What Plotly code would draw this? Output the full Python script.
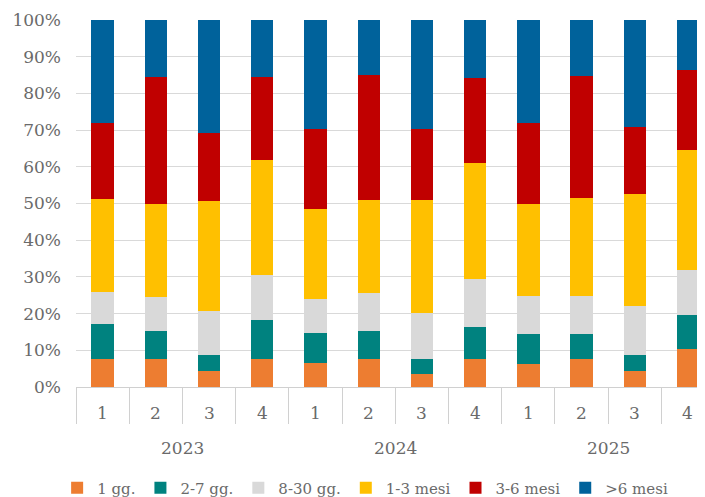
import plotly.graph_objects as go

year_labels = ["2023", "2024", "2025"]
quarter_labels = ["1", "2", "3", "4"]
years = [y for y in year_labels for _ in quarter_labels]
quarters = quarter_labels * len(year_labels)
positions = list(range(len(years)))

series_names = ["1 gg.", "2-7 gg.", "8-30 gg.", "1-3 mesi", "3-6 mesi", ">6 mesi"]
colors = ["#ED7D31", "#00827F", "#D9D9D9", "#FFC000", "#C00000", "#00629B"]

s_1gg = [7.7, 7.7, 4.4, 7.7, 6.6, 7.7, 3.6, 7.5, 6.4, 7.5, 4.4, 10.3]
s_2_7gg = [9.4, 7.5, 4.2, 10.5, 8.2, 7.5, 3.9, 8.8, 8.1, 7.0, 4.3, 9.3]
s_8_30gg = [8.8, 9.2, 12.0, 12.3, 9.3, 10.3, 12.7, 13.0, 10.2, 10.2, 13.5, 12.4]
s_1_3m = [25.2, 25.6, 30.0, 31.3, 24.5, 25.4, 30.7, 31.8, 25.1, 26.8, 30.4, 32.5]
s_3_6m = [20.7, 34.4, 18.7, 22.6, 21.7, 34.1, 19.4, 23.1, 22.2, 33.2, 18.3, 21.9]
s_6m = [28.2, 15.6, 30.7, 15.6, 29.7, 15.0, 29.7, 15.8, 28.0, 15.3, 29.1, 13.6]

all_series = [s_1gg, s_2_7gg, s_8_30gg, s_1_3m, s_3_6m, s_6m]

font_family = "DejaVu Serif"
text_color = "#6a6a6a"
axis_color = "#d0d0d0"

fig = go.Figure()
for name, color, vals in zip(series_names, colors, all_series):
    fig.add_trace(go.Bar(
        x=positions,
        y=[v / 100 for v in vals],
        name=name,
        marker=dict(color=color, line=dict(width=0)),
        width=0.42,
        customdata=list(zip(years, quarters)),
        hovertemplate="%{customdata[0]} T%{customdata[1]}<br>" + name + ": %{y:.1%}<extra></extra>",
    ))

n = len(positions)
boundaries = [i - 0.5 for i in range(n + 1)]
group_size = len(quarter_labels)
year_bounds = [i * group_size - 0.5 for i in range(len(year_labels) + 1)]

annotations = []
for p, q in zip(positions, quarters):
    annotations.append(dict(x=p, y=-0.071, xref="x", yref="paper", text=q,
                            showarrow=False, yanchor="middle",
                            font=dict(size=17, color=text_color, family=font_family)))
for gi, yl in enumerate(year_labels):
    center = (positions[gi * group_size] + positions[gi * group_size + group_size - 1]) / 2
    annotations.append(dict(x=center, y=-0.166, xref="x", yref="paper", text=yl,
                            showarrow=False, yanchor="middle",
                            font=dict(size=17, color=text_color, family=font_family)))

# the page body adds an 8px offset, so the figure is sized to compensate
fig.update_layout(
    barmode="stack",
    width=697,
    height=489,
    margin=dict(l=68, r=0, t=12, b=110, autoexpand=False),
    plot_bgcolor="white",
    paper_bgcolor="white",
    font=dict(family=font_family, size=17, color=text_color),
    showlegend=True,
    legend=dict(
        orientation="h",
        x=-0.03,
        xanchor="left",
        y=-0.275,
        yanchor="middle",
        font=dict(size=15, color=text_color),
        itemwidth=30,
        traceorder="normal",
    ),
    annotations=annotations,
    xaxis=dict(
        range=[-0.5, 11.32],
        showgrid=False,
        showline=True,
        linecolor=axis_color,
        zeroline=False,
        tickmode="array",
        tickvals=year_bounds,
        ticktext=["" for _ in year_bounds],
        ticks="outside",
        ticklen=73,
        tickcolor=axis_color,
        minor=dict(
            tickmode="array",
            tickvals=boundaries,
            ticks="outside",
            ticklen=36,
            tickcolor=axis_color,
            showgrid=False,
        ),
    ),
    yaxis=dict(
        range=[0, 1],
        dtick=0.1,
        tickformat=".0%",
        showgrid=True,
        gridcolor="#d9d9d9",
        gridwidth=1,
        zeroline=False,
        showline=False,
        ticks="",
        ticklabelstandoff=14,
        tickfont=dict(size=17, color=text_color),
    ),
)

fig.write_html("out.html")
